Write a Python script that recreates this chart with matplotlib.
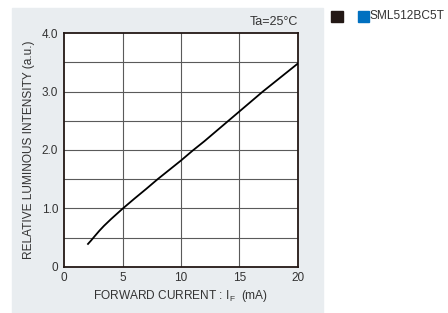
import matplotlib
matplotlib.use("Agg")
import matplotlib.pyplot as plt
from matplotlib.patches import Rectangle

plt.rcParams['font.family'] = ['Liberation Sans', 'Noto Sans CJK JP', 'DejaVu Sans']
plt.rcParams['mathtext.fontset'] = 'custom'
plt.rcParams['mathtext.rm'] = 'Liberation Sans'

# forward current (mA) vs relative luminous intensity (a.u.)
current = [2.03, 2.3, 2.55, 3.0, 3.4, 4.0, 4.5, 5.0, 6.0, 7.0, 8.0, 9.0, 10.0,
           11.0, 12.0, 13.0, 14.0, 15.0, 16.0, 17.0, 18.0, 19.0, 20.0]
intensity = [0.39, 0.45, 0.51, 0.615, 0.70, 0.815, 0.905, 0.995, 1.165, 1.33, 1.5, 1.66, 1.82,
             1.99, 2.15, 2.32, 2.49, 2.66, 2.83, 3.0, 3.16, 3.32, 3.48]

x_ticks = [0, 5, 10, 15, 20]
y_ticks = [0, 1.0, 2.0, 3.0, 4.0]
y_tick_labels = ["0", "1.0", "2.0", "3.0", "4.0"]
y_grid = [0.5, 1.0, 1.5, 2.0, 2.5, 3.0, 3.5]

W, H = 448, 313
fig = plt.figure(figsize=(W / 100, H / 100), dpi=100)

# gray panel behind the chart
fig.patches.append(Rectangle((12 / W, 0), (323 - 12) / W, (313 - 8) / H,
                             transform=fig.transFigure, color="#e9edf0", zorder=-5))

ax = fig.add_axes([64.3 / W, 1 - 266.7 / H, (297.7 - 64.3) / W, (266.7 - 33.3) / H])
ax.set_zorder(2)
ax.set_facecolor("white")
ax.plot(current, intensity, color="black", lw=1.3, zorder=3)

ax.set_xlim(0, 20)
ax.set_ylim(0, 4.0)
ax.set_xticks(x_ticks)
ax.set_yticks(y_ticks)
ax.set_yticklabels(y_tick_labels)
for v in x_ticks[1:-1]:
    ax.axvline(v, color="#5a5a5a", lw=0.8, zorder=1)
for v in y_grid:
    ax.axhline(v, color="#5a5a5a", lw=0.8, zorder=1)
ax.tick_params(length=0, labelsize=8.5, colors="#333333")
ax.tick_params(axis="x", pad=4)
ax.tick_params(axis="y", pad=4.5)
for s in ax.spines.values():
    s.set_color("#231815")
    s.set_linewidth(1.3)

ax.set_ylabel("RELATIVE LUMINOUS INTENSITY (a.u.)", fontsize=8.6, color="#333333", labelpad=5)
ax.set_xlabel(r"FORWARD CURRENT : I$_{\mathregular{F}}$  (mA)", fontsize=8.6, color="#333333", labelpad=3)
ax.text(1.0, 1.022, "Ta=25°C", transform=ax.transAxes, ha="right", va="bottom",
        fontsize=9, color="#333333")

# legend squares
fig.patches.append(Rectangle((330.7 / W, 1 - 21.7 / H), 12.6 / W, 10.7 / H,
                             transform=fig.transFigure, color="#231815"))
fig.patches.append(Rectangle((358.3 / W, 1 - 21.7 / H), 11 / W, 11.2 / H,
                             transform=fig.transFigure, color="#0070c0"))
fig.text(369.5 / W, 1 - 16 / H, "SML512BC5T", fontsize=8.6, color="#333333",
         va="center", ha="left")

fig.savefig("out.png", dpi=100)
